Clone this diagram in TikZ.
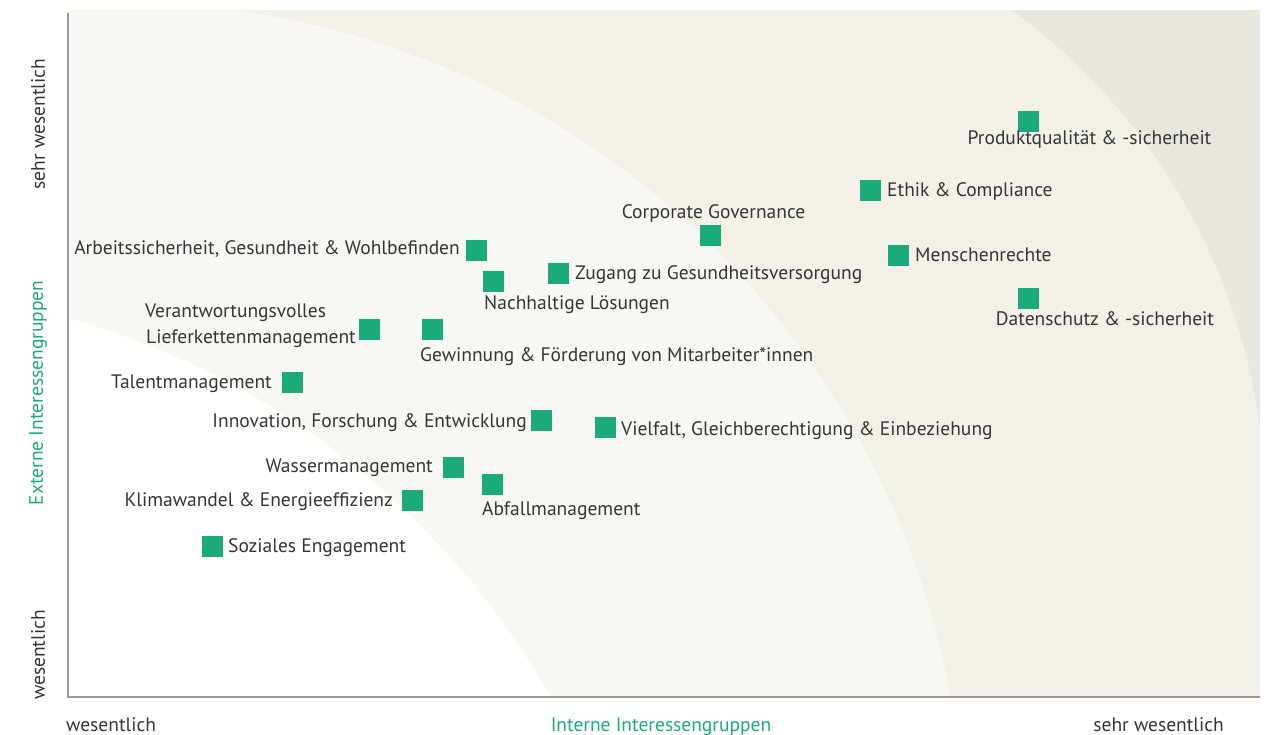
\documentclass[tikz,border=0pt]{standalone}
\usepackage{fontspec}
\setmainfont{PT Sans}
\definecolor{bgA}{HTML}{F7F7F3}
\definecolor{bgB}{HTML}{F3F0EA}
\definecolor{bgC}{HTML}{E9E6DF}
\definecolor{mark}{HTML}{1BAA7A}
\definecolor{txt}{HTML}{363636}
\definecolor{axis}{HTML}{9A9A9A}
\tikzset{
  sq/.style={fill=mark, minimum size=21pt, inner sep=0pt, draw=none},
  lbl/.style={text=txt, inner sep=0pt, font=\fontsize{19.5}{23}\selectfont},
  glbl/.style={text=mark, inner sep=0pt, font=\fontsize{19.5}{23}\selectfont},
}
\begin{document}
\begin{tikzpicture}[x=1pt,y=-1pt]
\useasboundingbox (0,0) rectangle (1271,734);
% background zones
\begin{scope}
\clip (68,10) rectangle (1260,697);
\fill[bgB] (68,10) rectangle (1260,697);
\fill[bgC] ([shift={(651,507)}]-75:614) arc[start angle=-75, end angle=0, radius=614] -- (1400,507) -- (1400,-100) -- cycle;
\fill[bgA] (118,848) circle (846);
\fill[white] (-150,1092) circle (804);
\end{scope}
% axes
\coordinate (o) at (68,697);
\coordinate (ytop) at (68,13);
\coordinate (xend) at (1260,697);
\draw[axis, line width=2.5pt] (ytop) -- (o) -- (xend);
% axis labels
\node[lbl, rotate=90] (ys) at (38,124) {sehr wesentlich};
\node[glbl, rotate=90] (yt) at (38,393) {Externe Interessengruppen};
\node[lbl, rotate=90] (yw) at (38,655) {wesentlich};
\node[lbl, anchor=base west] (xw) at (66,731) {wesentlich};
\node[glbl, anchor=base] (xt) at (661,731) {Interne Interessengruppen};
\node[lbl, anchor=base east] (xs) at (1224,731) {sehr wesentlich};
% markers
\node[sq] (m1) at (1028,121.5) {};
\node[sq] (m2) at (870.5,190.5) {};
\node[sq] (m3) at (710.5,235.5) {};
\node[sq] (m4) at (898.5,255.5) {};
\node[sq] (m5) at (1028,298.5) {};
\node[sq] (m6) at (476,250.5) {};
\node[sq] (m7) at (558.3,273.7) {};
\node[sq] (m8) at (493,281.3) {};
\node[sq] (m9) at (369,329.5) {};
\node[sq] (m10) at (432.5,329.5) {};
\node[sq] (m11) at (292.5,382.5) {};
\node[sq] (m12) at (541.5,420.5) {};
\node[sq] (m13) at (605,427) {};
\node[sq] (m14) at (453,467.5) {};
\node[sq] (m15) at (492.5,484.5) {};
\node[sq] (m16) at (412.5,500.5) {};
\node[sq] (m17) at (212.5,546.5) {};
% labels
\node[lbl, anchor=base] (t1) at (1089.5,144) {Produktqualität \& -sicherheit};
\node[lbl, anchor=base west] (t2) at (887,196) {Ethik \& Compliance};
\node[lbl, anchor=base] (t3) at (713.5,218) {Corporate Governance};
\node[lbl, anchor=base west] (t4) at (915,261) {Menschenrechte};
\node[lbl, anchor=base] (t5) at (1105,325) {Datenschutz \& -sicherheit};
\node[lbl, anchor=base east] (t6) at (460,254) {Arbeitssicherheit, Gesundheit \& Wohlbefinden};
\node[lbl, anchor=base west] (t7) at (575,279) {Zugang zu Gesundheitsversorgung};
\node[lbl, anchor=base west] (t8) at (484,309) {Nachhaltige Lösungen};
\node[lbl, anchor=base west] (t9a) at (145,317) {Verantwortungsvolles};
\node[lbl, anchor=base west] (t9b) at (146,343) {Lieferkettenmanagement};
\node[lbl, anchor=base west] (t10) at (420,361) {Gewinnung \& Förderung von Mitarbeiter*innen};
\node[lbl, anchor=base east] (t11) at (272,388) {Talentmanagement};
\node[lbl, anchor=base east] (t12) at (527,427) {Innovation, Forschung \& Entwicklung};
\node[lbl, anchor=base west] (t13) at (621,435) {Vielfalt, Gleichberechtigung \& Einbeziehung};
\node[lbl, anchor=base east] (t14) at (433,472) {Wassermanagement};
\node[lbl, anchor=base east] (t15) at (393,506) {Klimawandel \& Energieeffizienz};
\node[lbl, anchor=base west] (t16) at (482,515) {Abfallmanagement};
\node[lbl, anchor=base west] (t17) at (228,552) {Soziales Engagement};
\end{tikzpicture}
\end{document}
